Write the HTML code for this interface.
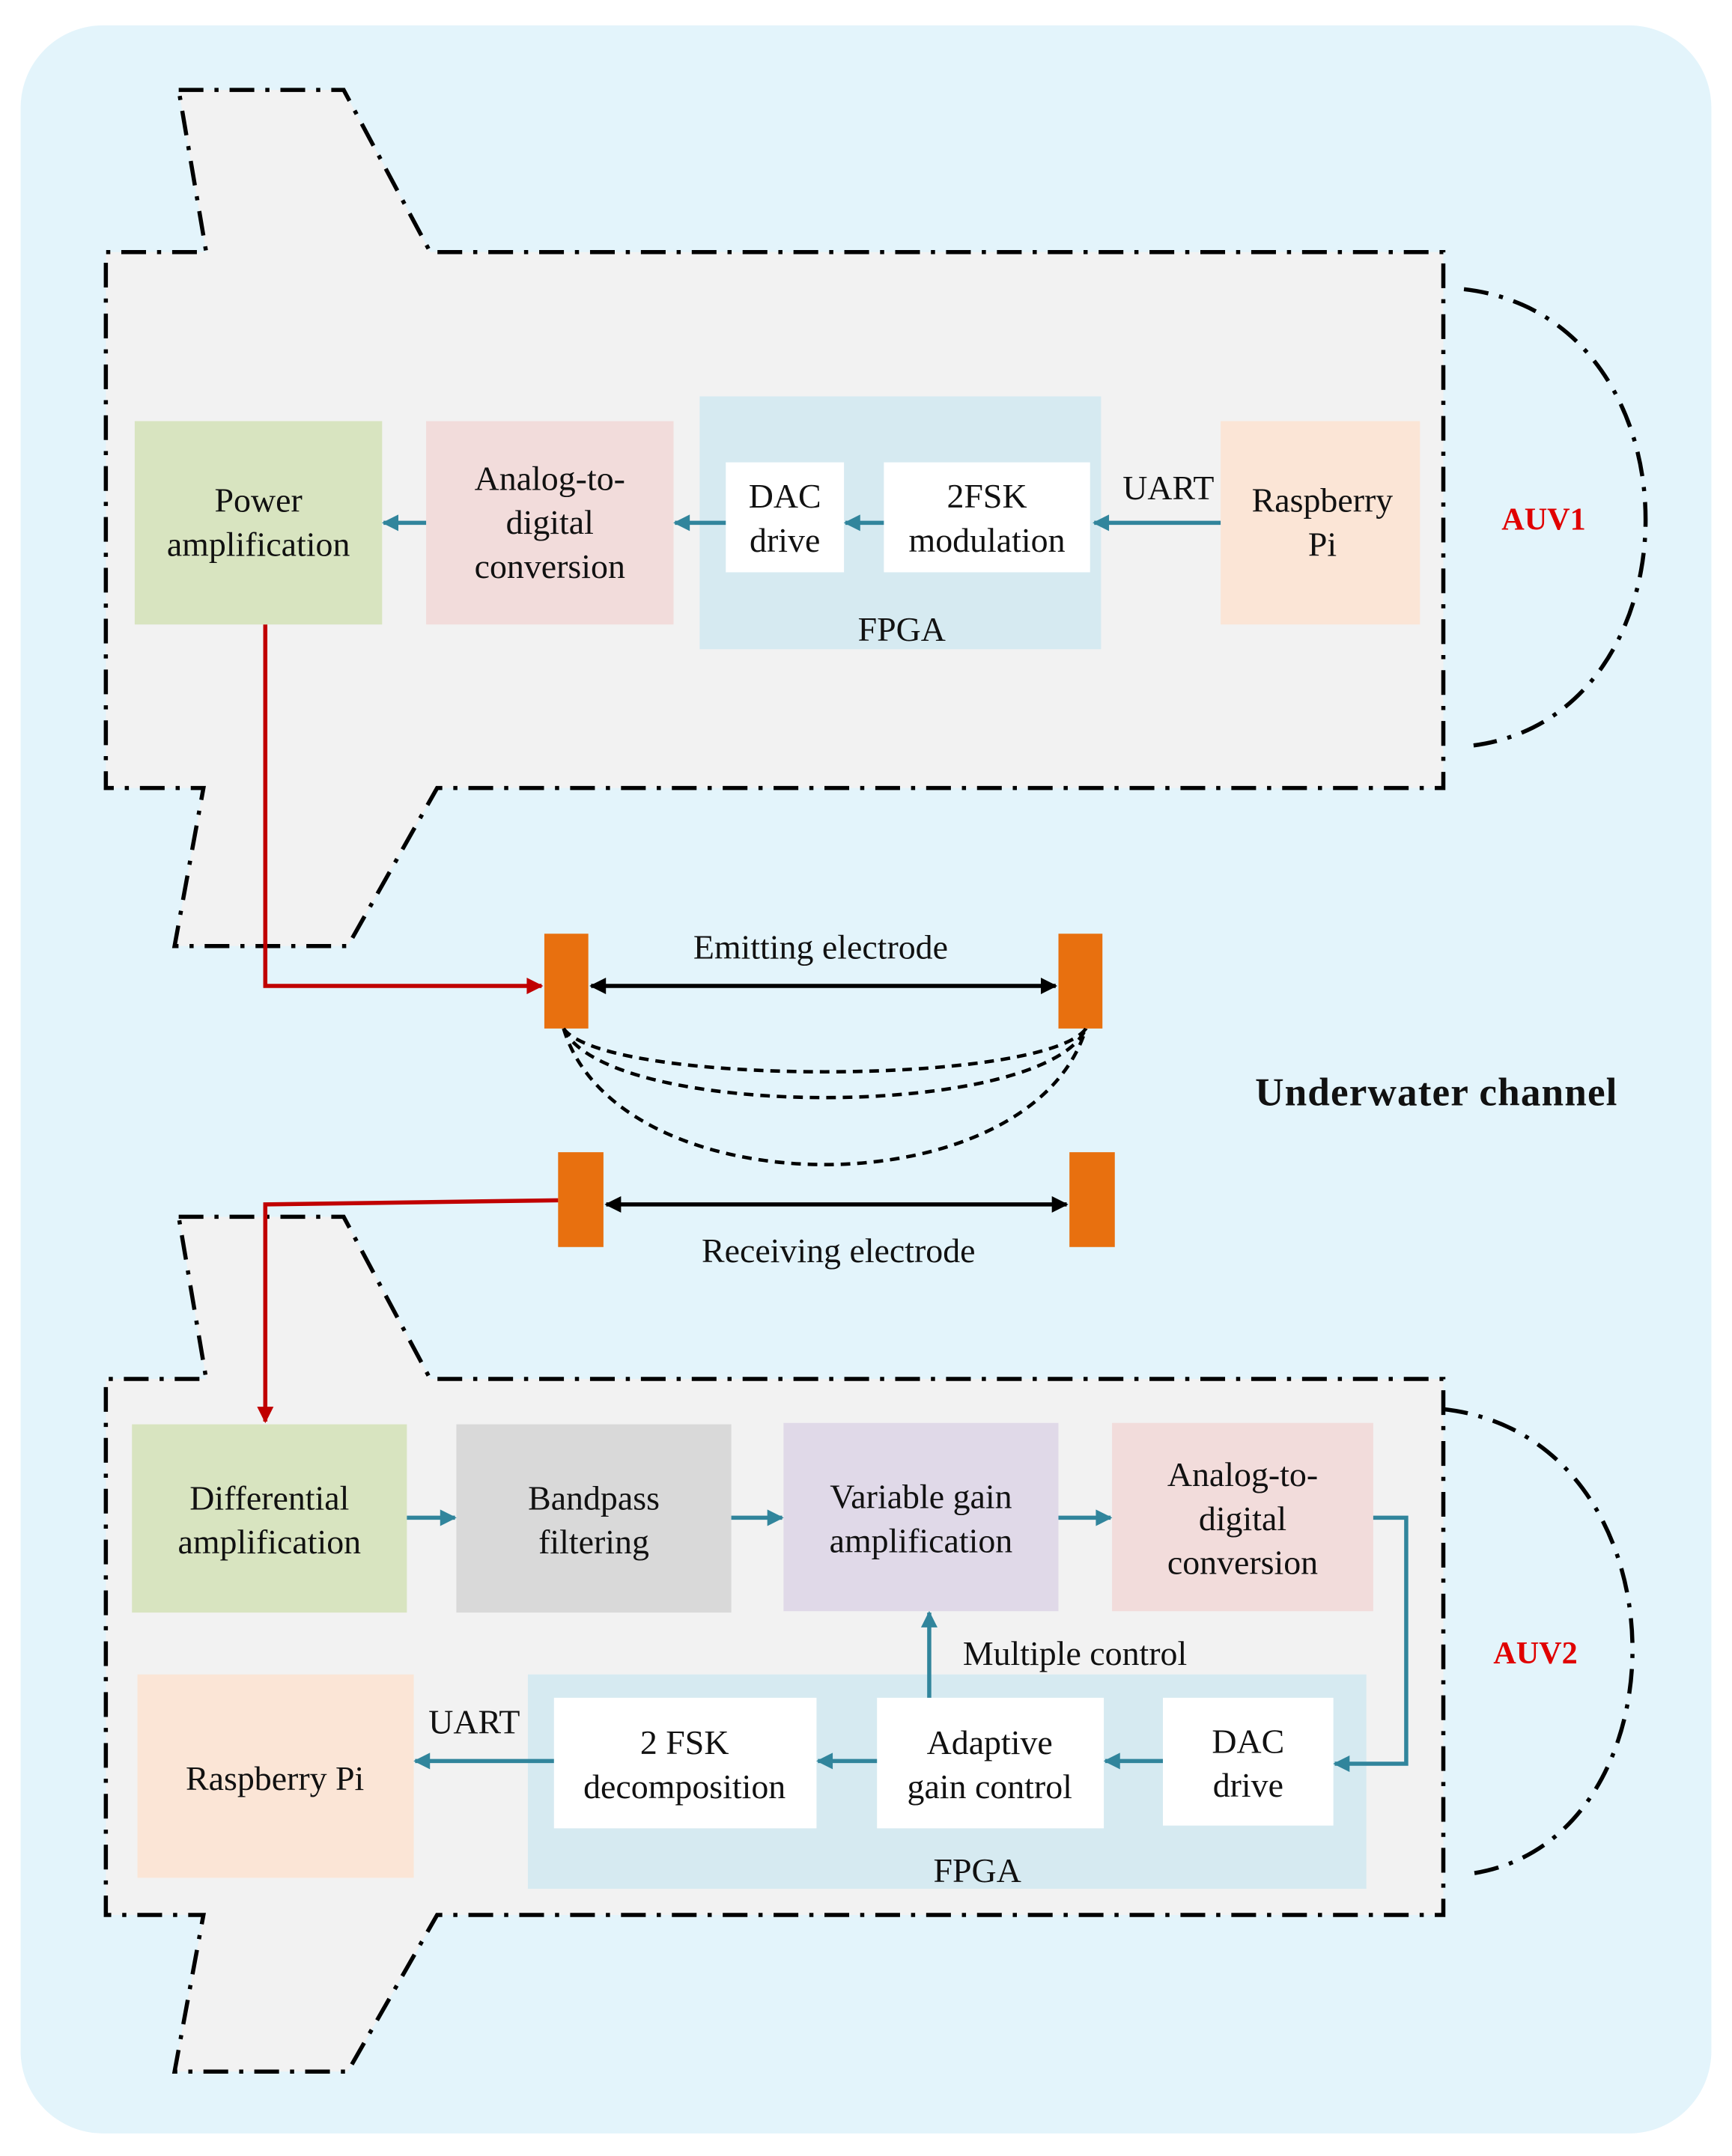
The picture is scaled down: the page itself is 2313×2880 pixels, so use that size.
<!DOCTYPE html>
<html><head><meta charset="utf-8"><style>
html,body{margin:0;padding:0;background:#fff;font-family:"Liberation Serif","DejaVu Serif",serif;}
svg{display:block;}
</style></head><body>
<svg width="2313" height="2880" viewBox="0 0 1260 1568" xmlns="http://www.w3.org/2000/svg" font-family="'Liberation Serif', 'DejaVu Serif', serif">
<defs>
<marker id="ta2" viewBox="0 0 10 10" markerWidth="14" markerHeight="12" refX="9" refY="5" orient="auto" markerUnits="userSpaceOnUse"><path d="M0,0 L10,5 L0,10 z" fill="#31859c"/></marker>
<marker id="ra" viewBox="0 0 10 10" markerWidth="14" markerHeight="12" refX="9" refY="5" orient="auto" markerUnits="userSpaceOnUse"><path d="M0,0 L10,5 L0,10 z" fill="#c00000"/></marker>
<marker id="ka" viewBox="0 0 10 10" markerWidth="14" markerHeight="12" refX="9" refY="5" orient="auto-start-reverse" markerUnits="userSpaceOnUse"><path d="M0,0 L10,5 L0,10 z" fill="#000"/></marker>
</defs>
<rect x="15" y="18" width="1230" height="1534" rx="60" fill="#e3f4fb"/>

<!-- AUV1 -->
<polygon points="130,65 250,65 313,183 1050,183 1050,573 318,573 253,688 127,688 148,573 77,573 77,183 150,183" fill="#f2f2f2" stroke="#000" stroke-width="3" stroke-dasharray="18,8,3,8"/>
<path d="M1065,210 C1240,230 1240,520 1072,542" fill="none" stroke="#000" stroke-width="3" stroke-dasharray="18,8,3,8"/>
<rect x="98" y="306" width="180" height="148" fill="#d8e4c0"/>
<rect x="310" y="306" width="180" height="148" fill="#f2dcdb"/>
<rect x="509" y="288" width="292" height="184" fill="#d6eaf1"/>
<rect x="528" y="336" width="86" height="80" fill="#fff"/>
<rect x="643" y="336" width="150" height="80" fill="#fff"/>
<rect x="888" y="306" width="145" height="148" fill="#fbe5d6"/>
<g font-size="25" text-anchor="middle" fill="#111" font-family="'Liberation Serif', 'DejaVu Serif', serif">
<text x="188" y="372">Power</text><text x="188" y="404">amplification</text>
<text x="400" y="356">Analog-to-</text><text x="400" y="388">digital</text><text x="400" y="420">conversion</text>
<text x="571" y="369">DAC</text><text x="571" y="401">drive</text>
<text x="718" y="369">2FSK</text><text x="718" y="401">modulation</text>
<text x="962" y="372">Raspberry</text><text x="962" y="404">Pi</text>
<text x="656" y="466">FPGA</text>
<text x="850" y="363">UART</text>
</g>
<text x="1123" y="385" font-size="23" font-weight="bold" text-anchor="middle" fill="#e00000" font-family="'Liberation Serif', serif">AUV1</text>
<g stroke="#31859c" stroke-width="3">
<line x1="888" y1="380" x2="796" y2="380" marker-end="url(#ta2)"/>
<line x1="643" y1="380" x2="615" y2="380" marker-end="url(#ta2)"/>
<line x1="528" y1="380" x2="491" y2="380" marker-end="url(#ta2)"/>
<line x1="310" y1="380" x2="279" y2="380" marker-end="url(#ta2)"/>
</g>
<polyline points="193,454 193,717 394,717" fill="none" stroke="#c00000" stroke-width="3" marker-end="url(#ra)"/>

<!-- electrodes -->
<rect x="396" y="679" width="32" height="69" fill="#e8700f"/>
<rect x="770" y="679" width="32" height="69" fill="#e8700f"/>
<line x1="430" y1="717" x2="768" y2="717" stroke="#000" stroke-width="3" marker-start="url(#ka)" marker-end="url(#ka)"/>
<text x="597" y="697" font-size="25" text-anchor="middle" fill="#111" font-family="'Liberation Serif', serif">Emitting electrode</text>
<g fill="none" stroke="#000" stroke-width="2.5" stroke-dasharray="7,5">
<path d="M410,748 C440,790 760,790 790,748"/>
<path d="M410,748 C440,815 760,815 790,748"/>
<path d="M410,748 C450,880 750,880 790,748"/>
</g>
<text x="1045" y="804" font-size="29" font-weight="bold" text-anchor="middle" fill="#111" font-family="'Liberation Serif', serif" letter-spacing="0.6">Underwater channel</text>
<rect x="406" y="838" width="33" height="69" fill="#e8700f"/>
<rect x="778" y="838" width="33" height="69" fill="#e8700f"/>
<line x1="441" y1="876" x2="776" y2="876" stroke="#000" stroke-width="3" marker-start="url(#ka)" marker-end="url(#ka)"/>
<text x="610" y="918" font-size="25" text-anchor="middle" fill="#111" font-family="'Liberation Serif', serif">Receiving electrode</text>

<!-- AUV2 -->
<polygon points="130,885 250,885 313,1003 1050,1003 1050,1393 318,1393 253,1507 127,1507 148,1393 77,1393 77,1003 150,1003" fill="#f2f2f2" stroke="#000" stroke-width="3" stroke-dasharray="18,8,3,8"/>
<path d="M1050,1025 C1230,1045 1230,1340 1070,1363" fill="none" stroke="#000" stroke-width="3" stroke-dasharray="18,8,3,8"/>
<polyline points="406,873 193,876 193,1034" fill="none" stroke="#c00000" stroke-width="3" marker-end="url(#ra)"/>
<rect x="96" y="1036" width="200" height="137" fill="#d8e4c0"/>
<rect x="332" y="1036" width="200" height="137" fill="#d9d9d9"/>
<rect x="570" y="1035" width="200" height="137" fill="#e0d9e8"/>
<rect x="809" y="1035" width="190" height="137" fill="#f2dcdb"/>
<rect x="384" y="1218" width="610" height="156" fill="#d6eaf1"/>
<rect x="403" y="1235" width="191" height="95" fill="#fff"/>
<rect x="638" y="1235" width="165" height="95" fill="#fff"/>
<rect x="846" y="1235" width="124" height="93" fill="#fff"/>
<rect x="100" y="1218" width="201" height="148" fill="#fbe5d6"/>
<g font-size="25" text-anchor="middle" fill="#111" font-family="'Liberation Serif', 'DejaVu Serif', serif">
<text x="196" y="1098">Differential</text><text x="196" y="1130">amplification</text>
<text x="432" y="1098">Bandpass</text><text x="432" y="1130">filtering</text>
<text x="670" y="1097">Variable gain</text><text x="670" y="1129">amplification</text>
<text x="904" y="1081">Analog-to-</text><text x="904" y="1113">digital</text><text x="904" y="1145">conversion</text>
<text x="498" y="1276">2 FSK</text><text x="498" y="1308">decomposition</text>
<text x="720" y="1276">Adaptive</text><text x="720" y="1308">gain control</text>
<text x="908" y="1275">DAC</text><text x="908" y="1307">drive</text>
<text x="200" y="1302">Raspberry Pi</text>
<text x="711" y="1369">FPGA</text>
<text x="345" y="1261">UART</text>
<text x="782" y="1211">Multiple control</text>
</g>
<text x="1117" y="1210" font-size="23" font-weight="bold" text-anchor="middle" fill="#e00000" font-family="'Liberation Serif', serif">AUV2</text>
<g stroke="#31859c" stroke-width="3" fill="none">
<line x1="296" y1="1104" x2="331" y2="1104" marker-end="url(#ta2)"/>
<line x1="532" y1="1104" x2="569" y2="1104" marker-end="url(#ta2)"/>
<line x1="770" y1="1104" x2="808" y2="1104" marker-end="url(#ta2)"/>
<polyline points="999,1104 1023,1104 1023,1283 971,1283" marker-end="url(#ta2)"/>
<line x1="846" y1="1281" x2="804" y2="1281" marker-end="url(#ta2)"/>
<line x1="638" y1="1281" x2="595" y2="1281" marker-end="url(#ta2)"/>
<line x1="403" y1="1281" x2="302" y2="1281" marker-end="url(#ta2)"/>
<line x1="676" y1="1235" x2="676" y2="1173" marker-end="url(#ta2)"/>
</g>
</svg>
</body></html>
